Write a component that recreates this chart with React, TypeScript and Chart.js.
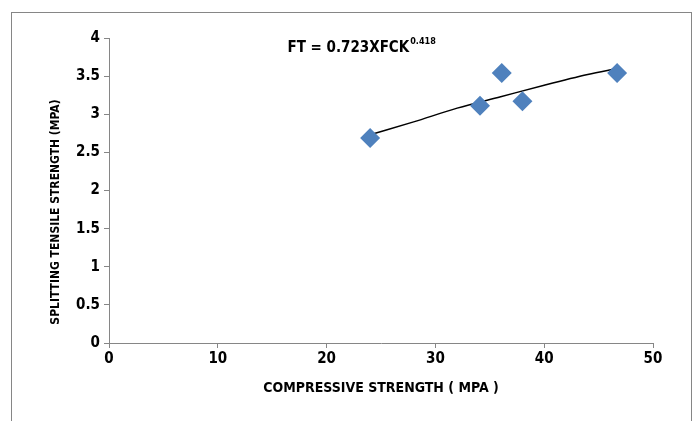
import React, { useEffect, useRef } from "react";
import { Chart, registerables } from "chart.js";

Chart.register(...registerables);

const compressiveStrength = [24, 34.1, 36.1, 38, 46.7];
const tensileStrength = [2.69, 3.11, 3.54, 3.17, 3.54];
const trendX = [24, 28, 32, 36, 40, 44, 46.7];
const trendY = [2.73, 2.9, 3.08, 3.23, 3.38, 3.52, 3.6];
const equationMain = "FT = 0.723XFCK";
const equationSup = "0.418";
const equationPos = [16.4, 3.87];
const xTitle = "COMPRESSIVE STRENGTH ( MPA )";
const yTitle = "SPLITTING TENSILE STRENGTH (MPA)";

const FONT = "'DejaVu Sans Condensed', 'DejaVu Sans', sans-serif";

const textPlugin = {
  id: "texts",
  afterDraw(chart: any) {
    const { ctx, scales } = chart;
    const x = scales.x.getPixelForValue(equationPos[0]);
    const y = scales.y.getPixelForValue(equationPos[1]);
    ctx.save();
    ctx.fillStyle = "#000";
    ctx.textBaseline = "middle";
    ctx.textAlign = "left";
    ctx.font = `bold 15px ${FONT}`;
    ctx.fillText(equationMain, x, y);
    const w = ctx.measureText(equationMain).width;
    ctx.font = `bold 9px ${FONT}`;
    ctx.fillText(equationSup, x + w + 1, y - 6);
    // y axis title
    ctx.translate(56, 212);
    ctx.rotate(-Math.PI / 2);
    ctx.textAlign = "center";
    ctx.font = `bold 12px ${FONT}`;
    ctx.fillText(yTitle, 0, 0);
    ctx.restore();
  },
};

const fmt = (v: any) => String(Number(v));

export default function App() {
  const ref = useRef<HTMLCanvasElement | null>(null);
  useEffect(() => {
    if (!ref.current) return;
    const chart = new Chart(ref.current, {
      type: "scatter",
      data: {
        datasets: [
          {
            label: "Trend",
            data: trendX.map((x, i) => ({ x, y: trendY[i] })),
            showLine: true,
            borderColor: "#000",
            borderWidth: 1.5,
            pointRadius: 0,
            cubicInterpolationMode: "monotone",
            order: 2,
          } as any,
          {
            label: "Data",
            data: compressiveStrength.map((x, i) => ({ x, y: tensileStrength[i] })),
            pointStyle: "rectRot",
            pointRadius: 10,
            backgroundColor: "#4F81BD",
            borderColor: "#4F81BD",
            borderWidth: 0,
            order: 1,
          } as any,
        ],
      },
      options: {
        animation: false,
        responsive: false,
        layout: { padding: { left: 40, right: 46, top: 38, bottom: 20 } },
        plugins: { legend: { display: false }, tooltip: { enabled: false } },
        scales: {
          x: {
            type: "linear",
            min: 0,
            max: 50,
            ticks: { stepSize: 10, color: "#000", font: { family: FONT, size: 15, weight: "bold" }, padding: 2, callback: fmt },
            grid: { drawOnChartArea: false, drawTicks: true, tickLength: 5, color: "#868686" },
            border: { color: "#868686" },
            title: { display: true, text: xTitle, color: "#000", font: { family: FONT, size: 14, weight: "bold" }, padding: { top: 5 } },
            afterFit(s: any) { s.height = 58; },
          },
          y: {
            type: "linear",
            min: 0,
            max: 4,
            ticks: { stepSize: 0.5, color: "#000", font: { family: FONT, size: 15, weight: "bold" }, padding: 4, callback: fmt },
            grid: { drawOnChartArea: false, drawTicks: true, tickLength: 5, color: "#868686" },
            border: { color: "#868686" },
            afterFit(s: any) { s.width = 69; },
          },
        },
      },
      plugins: [textPlugin],
    });
    return () => chart.destroy();
  }, []);
  return (
    <div>
      <div style={{ position: "fixed", left: 11, top: 12, width: 681, height: 420, border: "1px solid #868686", boxSizing: "border-box" }} />
      <canvas ref={ref} width={699} height={421} style={{ position: "fixed", left: 0, top: 0, width: 699, height: 421 }} />
    </div>
  );
}
